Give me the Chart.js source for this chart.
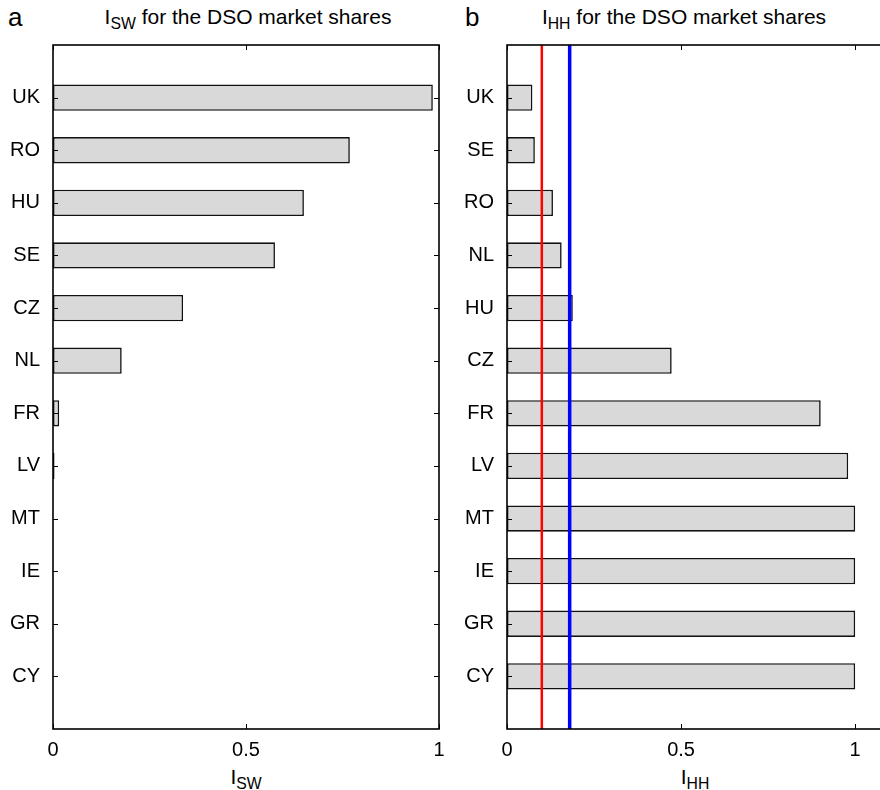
<!DOCTYPE html>
<html>
<head>
<meta charset="utf-8">
<script src="https://cdn.jsdelivr.net/npm/chart.js@4.4.1/dist/chart.umd.min.js"></script>
<style>
  html, body { margin:0; padding:0; background:#fff; width:880px; height:790px; overflow:hidden; position:relative; }
  .t { position:absolute; font-family:"Liberation Sans", Arial, sans-serif; color:#000; white-space:nowrap; line-height:1; }
  .t sub { font-size:75%; vertical-align:-0.3em; line-height:0; }
  canvas { position:absolute; top:0; }
</style>
</head>
<body>
<div class="t" style="left:8px; top:4px; font-size:26px;">a</div>
<div class="t" id="titleA" style="left:248px; top:6px; font-size:21px; transform:translateX(-50%);">I<sub>SW</sub> for the DSO market shares</div>
<div class="t" style="left:465px; top:4px; font-size:26px;">b</div>
<div class="t" id="titleB" style="left:684px; top:6px; font-size:21px; transform:translateX(-50%);">I<sub>HH</sub> for the DSO market shares</div>
<div class="t" style="left:246px; top:766px; font-size:21px; transform:translateX(-50%);">I<sub>SW</sub></div>
<div class="t" style="left:695px; top:766px; font-size:21px; transform:translateX(-50%);">I<sub>HH</sub></div>

<canvas id="cA" width="460" height="790" style="left:0px;"></canvas>
<canvas id="cB" width="440" height="790" style="left:460px;"></canvas>

<script>
// ---- data ----
const countriesA = ['UK', 'RO', 'HU', 'SE', 'CZ', 'NL', 'FR', 'LV', 'MT', 'IE', 'GR', 'CY'];
const valuesA    = [0.984, 0.769, 0.650, 0.575, 0.337, 0.178, 0.016, 0.004, 0, 0, 0, 0];
const countriesB = ['UK', 'SE', 'RO', 'NL', 'HU', 'CZ', 'FR', 'LV', 'MT', 'IE', 'GR', 'CY'];
const valuesB    = [0.073, 0.080, 0.132, 0.157, 0.189, 0.473, 0.901, 0.980, 1, 1, 1, 1];
const xTicks     = [0, 0.5, 1];
const thresholdLines = [0.1, 0.18];
const thresholdColors = ['#ff0000', '#0000ff'];
const thresholdWidths = [2.5, 3.5];

const FONT = '"Liberation Sans", Arial, sans-serif';

function padded(arr, fill) { return [fill].concat(arr, [fill]); }

const framePlugin = {
  id: 'frame',
  afterDatasetsDraw(chart, args, opts) {
    const ctx = chart.ctx, a = chart.chartArea;
    const xs = chart.scales.x, ys = chart.scales.y;
    ctx.save();
    if (opts.lines) {
      opts.lines.forEach((v, i) => {
        const px = xs.getPixelForValue(v);
        ctx.strokeStyle = opts.colors[i];
        ctx.lineWidth = opts.widths[i];
        ctx.beginPath();
        ctx.moveTo(px, a.top);
        ctx.lineTo(px, a.bottom);
        ctx.stroke();
      });
    }
    ctx.strokeStyle = '#000';
    ctx.lineWidth = 1;
    const tl = 5;
    xTicks.forEach(v => {
      const px = Math.round(xs.getPixelForValue(v)) + 0.5;
      ctx.beginPath();
      ctx.moveTo(px, a.bottom); ctx.lineTo(px, a.bottom - tl);
      ctx.moveTo(px, a.top); ctx.lineTo(px, a.top + tl);
      ctx.stroke();
    });
    for (let i = 1; i <= 12; i++) {
      const py = Math.round(ys.getPixelForValue(i)) + 0.5;
      ctx.beginPath();
      ctx.moveTo(a.left, py); ctx.lineTo(a.left + tl, py);
      ctx.moveTo(a.right, py); ctx.lineTo(a.right - tl, py);
      ctx.stroke();
    }
    ctx.lineWidth = 1.6;
    ctx.strokeRect(a.left, a.top, a.right - a.left, a.bottom - a.top);
    ctx.restore();
  }
};

function makeChart(id, labels, values, xmax, yWidth, padRight, lines) {
  return new Chart(document.getElementById(id), {
    type: 'bar',
    data: {
      labels: padded(labels, ''),
      datasets: [{
        data: padded(values, null),
        backgroundColor: '#d9d9d9',
        borderColor: '#111111',
        borderWidth: 1.6,
        borderSkipped: false,
        barPercentage: 0.5,
        categoryPercentage: 1.0
      }]
    },
    options: {
      indexAxis: 'y',
      responsive: false,
      animation: false,
      devicePixelRatio: 1,
      layout: { padding: { top: 45, right: padRight, bottom: 0, left: 0 } },
      plugins: {
        legend: { display: false },
        tooltip: { enabled: false },
        frame: lines ? { lines: thresholdLines, colors: thresholdColors, widths: thresholdWidths } : {}
      },
      scales: {
        x: {
          type: 'linear',
          min: 0, max: xmax,
          grid: { display: false, drawTicks: false },
          border: { display: false },
          afterBuildTicks: s => { s.ticks = xTicks.map(v => ({ value: v })); },
          afterFit: s => { s.height = 61; },
          ticks: {
            padding: 9,
            color: '#000',
            font: { family: FONT, size: 20 },
            callback: v => String(v)
          }
        },
        y: {
          type: 'category',
          offset: false,
          grid: { display: false, drawTicks: false },
          border: { display: false },
          afterFit: s => { s.width = yWidth; },
          ticks: {
            padding: 13,
            color: '#000',
            autoSkip: false,
            font: { family: FONT, size: 20 }
          }
        }
      }
    },
    plugins: [framePlugin]
  });
}

makeChart('cA', countriesA, valuesA, 1, 53, 21, false);
makeChart('cB', countriesB, valuesB, 1.1, 47, 10, true);
</script>
</body>
</html>
